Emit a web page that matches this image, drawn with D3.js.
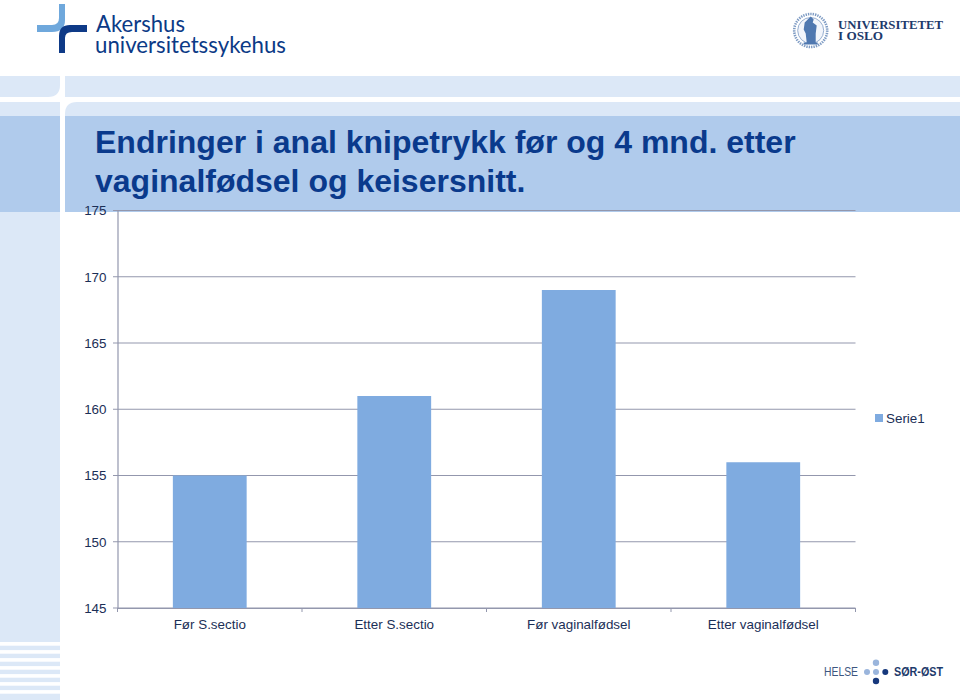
<!DOCTYPE html>
<html><head><meta charset="utf-8">
<script src="https://cdn.jsdelivr.net/npm/d3@7"></script>
<style>html,body{margin:0;padding:0;background:#fff}svg{display:block}</style>
</head><body><svg id="c" width="960" height="700" font-family="'Liberation Sans',Arial,sans-serif"></svg>
<script>
const categories = ["Før S.sectio","Etter S.sectio","Før vaginalfødsel","Etter vaginalfødsel"];
const seriesName = "Serie1";
const values = [155,161,169,156];
const yTicks = [145,150,155,160,165,170,175];
const titleLines = ["Endringer i anal knipetrykk før og 4 mnd. etter","vaginalfødsel og keisersnitt."];
const stripeRows = [645.7,653.7,661.7,669.7,677.7,685.7,693.7];

const svg = d3.select("#c");
const light="#dce8f7", mid="#b0cbec", navy="#0b3a86", ink="#1b2f57";

// Slide background
svg.append("rect").attr("x",0).attr("y",76).attr("width",960).attr("height",21).attr("fill",light);
svg.append("rect").attr("x",0).attr("y",97).attr("width",960).attr("height",5).attr("fill","#fff");
svg.append("path").attr("fill",light).attr("d","M65 116V114Q65 102 77 102H960V116Z");
svg.append("rect").attr("x",0).attr("y",102).attr("width",60).attr("height",14).attr("fill",light);
svg.append("rect").attr("x",0).attr("y",116).attr("width",60).attr("height",96).attr("fill",mid);
svg.append("rect").attr("x",65).attr("y",116).attr("width",895).attr("height",96).attr("fill",mid);
svg.append("rect").attr("x",0).attr("y",212).attr("width",60).attr("height",430).attr("fill",light);
svg.append("rect").attr("x",60).attr("y",76).attr("width",5).attr("height",624).attr("fill","#fff");
svg.append("path").attr("fill","#fff").attr("d","M60 85Q60 97 48 97H60Z");
svg.selectAll("rect.stripe").data(stripeRows).join("rect").attr("class","stripe")
  .attr("x",0).attr("y",d=>d).attr("width",60).attr("height",(d,i)=>i===stripeRows.length-1?6.3:4.4).attr("fill",light);

// Akershus logo
svg.append("path").attr("fill","#6fa8dc").attr("d","M59 4H65V20Q65 32 52 32H37V25H52Q59 25 59 18Z");
svg.append("path").attr("fill","#0e3a87").attr("d","M87 25V32H72Q65 32 65 38V53H59V36Q59 25 70 25Z");
const logoText=(x,y,size,w,fill,t,fam,wt)=>svg.append("text").attr("x",x).attr("y",y).attr("font-size",size)
  .attr("font-family",fam).attr("font-weight",wt||"normal").attr("fill",fill)
  .attr("textLength",w).attr("lengthAdjust","spacingAndGlyphs").text(t);
logoText(96,32,24,89,navy,"Akershus","Lato");
logoText(95,53,24,191,navy,"universitetssykehus","Lato");

// UiO logo
const seal=svg.append("g").attr("transform","translate(810.7,30.5)");
seal.append("circle").attr("r",16.5).attr("fill","#fff").attr("stroke","#7f9cc4").attr("stroke-width",2.6).attr("stroke-dasharray","1.4 1");
seal.append("circle").attr("r",13).attr("fill","#f2f5fb").attr("stroke","#6f8fbd").attr("stroke-width",.7);
seal.append("path").attr("fill","#4f78b0").attr("d","M-6 -8L-3 -11L0 -14L3 -11L2 -8L6 -5L5 3L5 12H7V14H-7V12H-4L-5 3L-7 -1Z");
logoText(838,29,12.5,105,"#1d3a6b","UNIVERSITETET","Liberation Serif","bold");
logoText(838,40,12.5,45,"#1d3a6b","I OSLO","Liberation Serif","bold");

// Helse logo
logoText(824,676,13,34,"#3d5680","HELSE");
logoText(894,676,13,49,"#1d3a6b","SØR-ØST",undefined,"bold");
[[876,662.7,3.2,"#9ab5dc"],[867,672,3,"#9ab5dc"],[876,672,3,"#9ab5dc"],[885.3,672,3,"#16387c"],[876,681,3.2,"#16387c"]].forEach(d=>
  svg.append("circle").attr("cx",d[0]).attr("cy",d[1]).attr("r",d[2]).attr("fill",d[3]));

// Title
svg.append("text").attr("font-size",32).attr("font-weight","bold").attr("fill","#0a3a8c")
  .selectAll("tspan").data(titleLines).join("tspan").attr("x",95).attr("y",(d,i)=>153+i*38.5).text(d=>d);

// Chart
const x=d3.scaleBand().domain(categories).range([117.5,855.5]).paddingInner(.6).paddingOuter(.3);
const xOuter=d3.scaleBand().domain(categories).range([117.5,855.5]);
const y=d3.scaleLinear().domain([145,175]).range([608,210.5]);
const grid="#9397ad";

svg.append("g").selectAll("line").data(yTicks).join("line")
  .attr("x1",113).attr("x2",855.5).attr("y1",d=>y(d)).attr("y2",d=>y(d))
  .attr("stroke",grid).attr("stroke-width",1.2);

svg.append("g").selectAll("rect").data(values).join("rect")
  .attr("x",(d,i)=>x(categories[i])).attr("width",x.bandwidth())
  .attr("y",d=>y(d)).attr("height",d=>y(145)-y(d)).attr("fill","#7fabe0");

const styleAxisText=g=>g.selectAll("text").attr("font-size",13.4).attr("fill",ink).attr("font-family","'Liberation Sans',Arial,sans-serif");
const yAxis=svg.append("g").attr("transform","translate(117.5,0)")
  .call(d3.axisLeft(y).tickValues(yTicks).tickSize(0).tickPadding(11).tickFormat(d3.format("d")));
yAxis.select(".domain").attr("stroke",grid).attr("stroke-width",1.2);
styleAxisText(yAxis);

const xAxis=svg.append("g").attr("transform","translate(0,608)")
  .call(d3.axisBottom(xOuter).tickSize(0).tickPadding(11));
xAxis.select(".domain").attr("stroke",grid).attr("stroke-width",1.2);
styleAxisText(xAxis);
svg.append("g").selectAll("line").data([...categories.map(c=>xOuter(c)),855.5]).join("line")
  .attr("x1",d=>d).attr("x2",d=>d).attr("y1",608).attr("y2",612).attr("stroke",grid).attr("stroke-width",1);

// Legend
svg.append("rect").attr("x",875).attr("y",414).attr("width",8).attr("height",8).attr("fill","#7fabe0");
svg.append("text").attr("x",886).attr("y",422.5).attr("font-size",13.4).attr("fill",ink).text(seriesName);
</script></body></html>
